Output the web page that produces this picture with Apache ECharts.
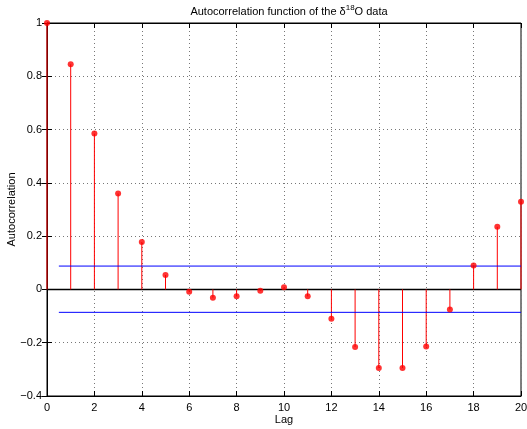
<!DOCTYPE html>
<html>
<head>
<meta charset="utf-8">
<script src="https://cdn.jsdelivr.net/npm/echarts@6/dist/echarts.min.js"></script>
<style>
  html, body { margin: 0; padding: 0; background: #fff; }
  #chart { width: 527px; height: 429px; }
</style>
</head>
<body>
<div id="chart"></div>
<script>
const lags = [0, 1, 2, 3, 4, 5, 6, 7, 8, 9, 10, 11, 12, 13, 14, 15, 16, 17, 18, 19, 20]
const acf = [1, 0.845, 0.585, 0.36, 0.178, 0.054, -0.009, -0.031, -0.026, -0.005, 0.008,
  -0.026, -0.11, -0.216, -0.295, -0.295, -0.214, -0.075, 0.09, 0.235, 0.329]
const boundX = [0.5, 20]
const upperBound = 0.0877
const lowerBound = -0.086

const myChart = echarts.init(document.getElementById('chart'))
const points = lags.map((l, i) => [l, acf[i]])
const font = 'Liberation Sans, Arial, sans-serif'
const minus = (v) => String(v).replace('-', '\u2212')

const option = {
  animation: false,
  title: {
    text: 'Autocorrelation function of the {d|δ}{sup|18}{d|O data}',
    left: 284,
    textAlign: 'center',
    top: -1,
    textStyle: {
      fontFamily: font,
      fontSize: 11,
      fontWeight: 'normal',
      color: '#000',
      rich: {
        d: { fontFamily: font, fontSize: 11, color: '#000' },
        sup: { fontFamily: font, fontSize: 8, color: '#000', verticalAlign: 'bottom', padding: [0, 0, 8, 0] },
      },
    },
  },
  grid: {
    left: 47,
    right: 6,
    top: 23,
    bottom: 33,
    outerBoundsMode: 'none',
    containLabel: false,
    show: true,
    borderColor: '#000',
    borderWidth: 1,
  },
  xAxis: [{
    type: 'value',
    min: 0,
    max: 20,
    interval: 2,
    name: 'Lag',
    nameLocation: 'middle',
    nameGap: 18,
    nameMoveOverlap: false,
    nameTextStyle: { fontFamily: font, fontSize: 11, color: '#000' },
    axisLine: { onZero: false, lineStyle: { color: '#000' } },
    axisTick: { inside: true, length: 5, lineStyle: { color: '#000' } },
    axisLabel: { fontFamily: font, fontSize: 11, color: '#000', margin: 6 },
    splitLine: { show: true, lineStyle: { type: [1, 3], color: '#777' } },
  }, {
    type: 'value',
    position: 'top',
    min: 0,
    max: 20,
    interval: 2,
    axisLine: { onZero: false, lineStyle: { color: '#000' } },
    axisTick: { inside: true, length: 5, lineStyle: { color: '#000' } },
    axisLabel: { show: false },
    splitLine: { show: false },
  }],
  yAxis: [{
    type: 'value',
    min: -0.4,
    max: 1,
    interval: 0.2,
    name: 'Autocorrelation',
    nameLocation: 'middle',
    nameGap: 30,
    nameMoveOverlap: false,
    nameTextStyle: { fontFamily: font, fontSize: 11, color: '#000' },
    axisLine: { show: true, lineStyle: { color: '#000' } },
    axisTick: { inside: true, length: 5, lineStyle: { color: '#000' } },
    axisLabel: {
      fontFamily: font,
      fontSize: 11,
      color: '#000',
      margin: 5,
      formatter: (v) => minus(Math.round(v * 10) / 10),
    },
    splitLine: { show: true, lineStyle: { type: [1, 3], color: '#777' } },
  }, {
    type: 'value',
    position: 'right',
    min: -0.4,
    max: 1,
    interval: 0.2,
    axisLine: { show: true, lineStyle: { color: '#000' } },
    axisTick: { inside: true, length: 5, lineStyle: { color: '#000' } },
    axisLabel: { show: false },
    splitLine: { show: false },
  }],
  series: [{
    type: 'line',
    data: [[0, 0], [20, 0]],
    symbol: 'none',
    lineStyle: { color: '#000', width: 1.5 },
    silent: true,
    z: 3,
  }, {
    type: 'custom',
    data: points,
    renderItem: (params, api) => {
      const top = api.coord([api.value(0), api.value(1)])
      const base = api.coord([api.value(0), 0])
      return {
        type: 'line',
        shape: { x1: top[0], y1: top[1], x2: base[0], y2: base[1] },
        style: { stroke: '#f00', lineWidth: 1 },
      }
    },
    z: 4,
  }, {
    type: 'line',
    data: boundX.map((x) => [x, upperBound]),
    symbol: 'none',
    lineStyle: { color: '#00f', width: 1 },
    silent: true,
    z: 5,
  }, {
    type: 'line',
    data: boundX.map((x) => [x, lowerBound]),
    symbol: 'none',
    lineStyle: { color: '#00f', width: 1 },
    silent: true,
    z: 5,
  }, {
    type: 'scatter',
    data: points,
    symbol: 'circle',
    symbolSize: 6,
    itemStyle: { color: '#f00' },
    z: 6,
  }],
}
myChart.setOption(option)
</script>
</body>
</html>
